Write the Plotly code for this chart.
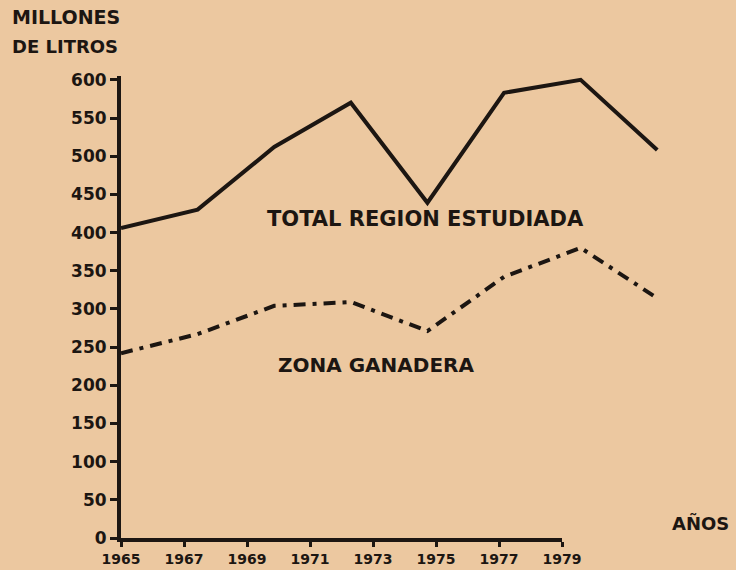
import plotly.graph_objects as go

years = [1965, 1967, 1969, 1971, 1973, 1975, 1977, 1979]
total_region = [406, 430, 512, 570, 439, 583, 600, 508]
zona_ganadera = [242, 267, 304, 309, 271, 342, 380, 314]

y_ticks = [0, 50, 100, 150, 200, 250, 300, 350, 400, 450, 500, 550, 600]
y_tick_labels = ["0", "50", "100", "150", "200", "250", "300", "350", "400", "450", "500", "550", "600"]
x_tick_years = [1965, 1967, 1969, 1971, 1973, 1975, 1977, 1979]

BG = "#ECC8A0"
INK = "#1c1612"
FONT = "DejaVu Sans"

fig = go.Figure()

fig.add_trace(go.Scatter(
    x=years, y=total_region, mode="lines", name="Total región estudiada",
    line=dict(color=INK, width=4), xaxis="x", yaxis="y", hoverinfo="x+y"))
fig.add_trace(go.Scatter(
    x=years, y=zona_ganadera, mode="lines", name="Zona ganadera",
    line=dict(color=INK, width=4, dash="12px,7px,4px,7px"), xaxis="x", yaxis="y", hoverinfo="x+y"))
# carrier trace for the drawn year axis
fig.add_trace(go.Scatter(
    x=[x_tick_years[0], x_tick_years[-1]], y=[None, None], mode="lines",
    xaxis="x2", yaxis="y", showlegend=False, hoverinfo="skip"))

fig.update_layout(
    width=736, height=570,
    margin=dict(l=121, r=73, t=76, b=32, autoexpand=False),
    paper_bgcolor=BG, plot_bgcolor="rgba(0,0,0,0)",
    showlegend=False,
    font=dict(family=FONT, color=INK, size=14, weight="bold"),
    xaxis=dict(domain=[0, 1], range=[1965, 1979.15], visible=False, fixedrange=True,
               automargin=False),
    xaxis2=dict(domain=[0, 0.8137], anchor="y", range=[1965, 1979], automargin=False,
                tickvals=x_tick_years, ticktext=[str(v) for v in x_tick_years],
                showline=True, linecolor=INK, linewidth=4,
                ticks="outside", ticklen=5, tickwidth=3, tickcolor=INK,
                showgrid=False, zeroline=False,
                tickfont=dict(family=FONT, size=14, color=INK, weight="bold")),
    yaxis=dict(range=[0, 605], tickvals=y_ticks, ticktext=y_tick_labels, automargin=False,
               showline=True, linecolor=INK, linewidth=4,
               ticks="outside", ticklen=7, tickwidth=3, tickcolor=INK,
               showgrid=False, zeroline=False,
               tickfont=dict(family=FONT, size=17, color=INK, weight="bold")),
    annotations=[
        dict(text="MILLONES", xref="paper", yref="paper", x=-0.205, y=1.128,
             xanchor="left", yanchor="middle", showarrow=False,
             font=dict(family=FONT, size=19, color=INK, weight="bold")),
        dict(text="DE LITROS", xref="paper", yref="paper", x=-0.205, y=1.063,
             xanchor="left", yanchor="middle", showarrow=False,
             font=dict(family=FONT, size=18, color=INK, weight="bold")),
        dict(text="AÑOS", xref="paper", yref="paper", x=1.070, y=0.032,
             xanchor="center", yanchor="middle", showarrow=False,
             font=dict(family=FONT, size=18, color=INK, weight="bold")),
        dict(text="TOTAL REGION ESTUDIADA", xref="x", yref="y", x=1972.94, y=418,
             xanchor="center", yanchor="middle", showarrow=False,
             font=dict(family=FONT, size=21, color=INK, weight="bold")),
        dict(text="ZONA GANADERA", xref="x", yref="y", x=1971.66, y=227,
             xanchor="center", yanchor="middle", showarrow=False,
             font=dict(family=FONT, size=20, color=INK, weight="bold")),
    ],
)

fig.write_html(
    "out.html",
    config={"displayModeBar": False},
    post_script="document.body.style.margin='0';document.body.style.background='" + BG + "';",
)
